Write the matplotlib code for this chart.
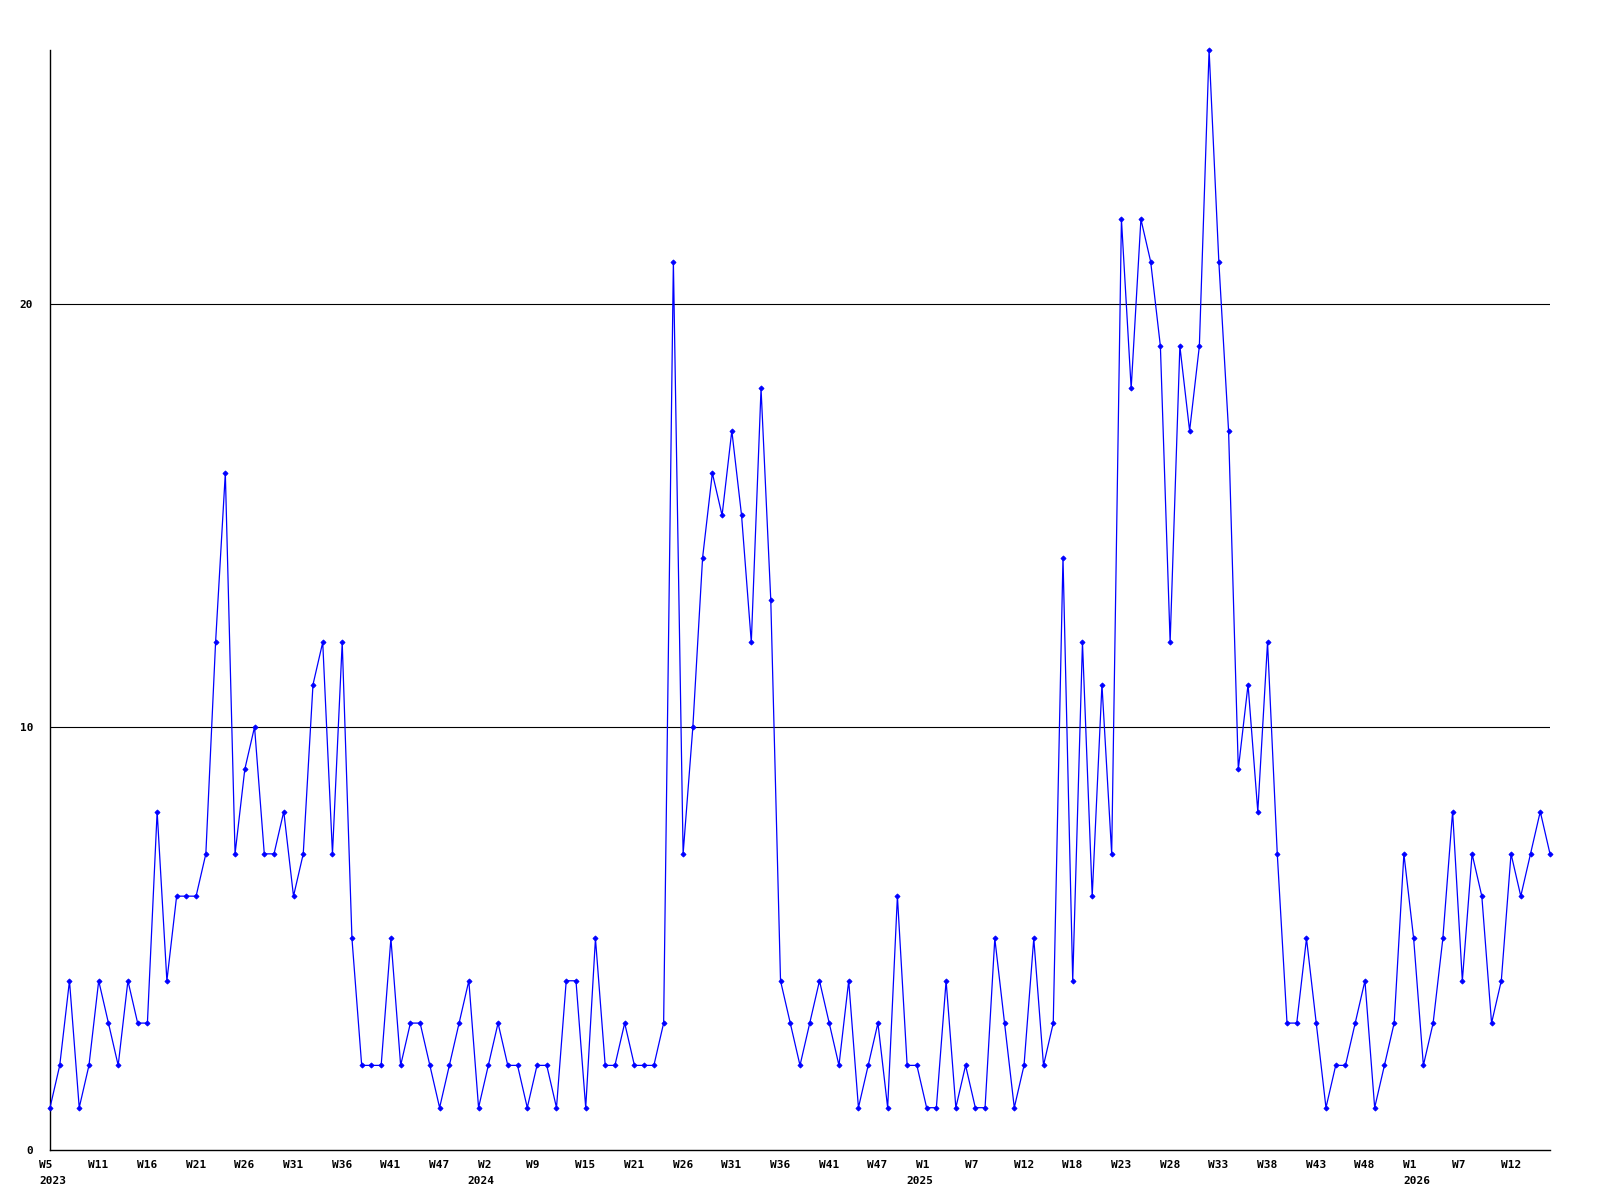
import matplotlib
matplotlib.use("Agg")
from matplotlib import pyplot as plt
import matplotlib.transforms as transforms

# weekly counts, one value per point
values = [1, 2, 4, 1, 2, 4, 3, 2, 4, 3, 3, 8, 4, 6, 6, 6, 7, 12, 16, 7,
          9, 10, 7, 7, 8, 6, 7, 11, 12, 7, 12, 5, 2, 2, 2, 5, 2, 3, 3, 2,
          1, 2, 3, 4, 1, 2, 3, 2, 2, 1, 2, 2, 1, 4, 4, 1, 5, 2, 2, 3,
          2, 2, 2, 3, 21, 7, 10, 14, 16, 15, 17, 15, 12, 18, 13, 4, 3, 2, 3, 4,
          3, 2, 4, 1, 2, 3, 1, 6, 2, 2, 1, 1, 4, 1, 2, 1, 1, 5, 3, 1,
          2, 5, 2, 3, 14, 4, 12, 6, 11, 7, 22, 18, 22, 21, 19, 12, 19, 17, 19, 26,
          21, 17, 9, 11, 8, 12, 7, 3, 3, 5, 3, 1, 2, 2, 3, 4, 1, 2, 3, 7,
          5, 2, 3, 5, 8, 4, 7, 6, 3, 4, 7, 6, 7, 8, 7]

# one week label every 5 points
week_labels = ["W5", "W11", "W16", "W21", "W26", "W31", "W36", "W41", "W47",
               "W2", "W9", "W15", "W21", "W26", "W31", "W36", "W41", "W47",
               "W1", "W7", "W12", "W18", "W23", "W28", "W33", "W38", "W43", "W48",
               "W1", "W7", "W12"]
year_labels = {0: "2023", 9: "2024", 18: "2025", 28: "2026"}
label_step = 5

fig = plt.figure(figsize=(16, 12), dpi=100)
ax = fig.add_axes([50 / 1600, 50 / 1200, 1500 / 1600, 1100 / 1200])

x = list(range(len(values)))
ax.plot(x, values, color="#0000ff", lw=0.9, marker="D", markersize=2.6,
        markeredgewidth=0.6, markerfacecolor="#0000ff", markeredgecolor="#0000ff",
        zorder=3, clip_on=False)

for level in (10, 20):
    ax.axhline(level, color="black", lw=0.8, zorder=1)

ax.set_xlim(0, len(values) - 1)
ax.set_ylim(0, 26)

for side in ("top", "right"):
    ax.spines[side].set_visible(False)
for side in ("left", "bottom"):
    ax.spines[side].set_linewidth(1.0)
    ax.spines[side].set_color("black")

font = dict(family="DejaVu Sans Mono", weight="bold", size=8)
ax.set_yticks([0, 10, 20])
ax.set_yticklabels(["0", "10", "20"], **font)
ax.tick_params(axis="y", length=0, pad=12)
ax.set_xticks([])

trans = transforms.blended_transform_factory(ax.transData, fig.transFigure)
for i, lab in enumerate(week_labels):
    pos = i * label_step - 1.08
    ax.text(pos, 35.5 / 1200, lab, transform=trans, ha="left", va="center",
            clip_on=False, **font)
    if i in year_labels:
        # mid-axis years sit a little left of their week label
        shift = 0 if i in (0, 28) else -1.05
        ax.text(pos + shift, 19.5 / 1200, year_labels[i], transform=trans,
                ha="left", va="center", clip_on=False, **font)

plt.savefig("out.png", dpi=100)
